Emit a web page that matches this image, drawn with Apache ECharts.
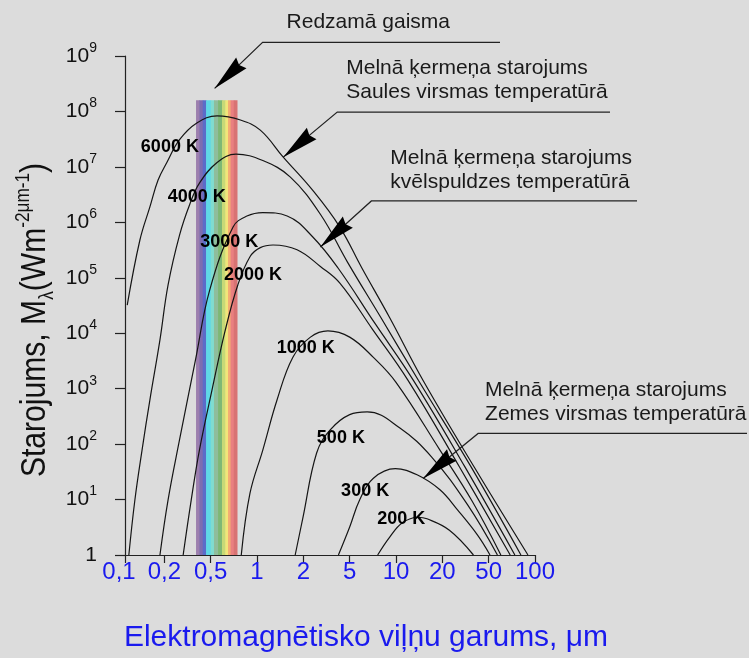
<!DOCTYPE html>
<html>
<head>
<meta charset="utf-8">
<script src="https://cdn.jsdelivr.net/npm/echarts@6/dist/echarts.min.js"></script>
<style>
  html, body { margin: 0; padding: 0; background: #dcdcdc; }
  #chart { width: 749px; height: 658px; }
</style>
</head>
<body>
<div id="chart"></div>
<script>
// x axis: tick values in μm and their labels (the picture spaces them evenly, 1-2-5 style)
const xTicks = [0.1, 0.2, 0.5, 1, 2, 5, 10, 20, 50, 100];
const xTickText = ['0,1', '0,2', '0,5', '1', '2', '5', '10', '20', '50', '100'];

// curves: [wavelength μm, M W/(m² μm)]
const t6000 = [[0.104, 3.2e4], [0.13, 4.8e5], [0.155, 1.9e6], [0.179, 5.8e6], [0.21, 1.2e7],
  [0.27, 3.1e7], [0.38, 6.2e7], [0.55, 8.3e7], [0.78, 7.0e7], [1.05, 4.6e7], [1.48, 1.5e7], [2.4, 3.8e6],
  [4.1, 8.3e5], [6.0, 1.5e5], [9.1, 1.9e4], [15, 1.4e3], [38, 37], [90, 1]];
const t4000 = [[0.107, 1], [0.119, 9.8], [0.135, 78], [0.155, 630], [0.185, 7.6e3], [0.215, 7.4e4], [0.27, 5.9e5],
  [0.33, 2.1e6], [0.40, 5.1e6], [0.55, 1.2e7], [0.73, 1.7e7], [1.09, 1.3e7], [1.64, 6.6e6], [2.8, 1.4e6],
  [4.8, 1.9e5], [7.9, 2.0e4], [14, 1.4e3], [35, 40], [81, 1]];
const t3000 = [[0.185, 1], [0.215, 9.8], [0.27, 120], [0.37, 3.3e3], [0.49, 6.0e4], [0.70, 8.3e5], [0.86, 1.3e6],
  [1.09, 1.5e6], [1.57, 1.3e6], [2.4, 5.5e5], [3.97, 1.5e5], [7.3, 1.5e4], [13, 1.4e3], [31, 40], [74, 1]];
const t2000 = [[0.29, 1], [0.34, 9.8], [0.40, 78], [0.51, 950], [0.62, 1.1e4], [0.75, 7.4e4], [0.90, 2.4e5],
  [1.05, 3.5e5], [1.27, 3.9e5], [1.82, 3.2e5], [2.8, 1.6e5], [4.1, 8.1e4], [7.0, 1.2e4], [12, 1.4e3], [28, 39], [69, 1]];
const t1000 = [[0.79, 1], [0.90, 13], [1.09, 78], [1.35, 630], [1.71, 3.7e3], [2.3, 8.5e3], [3.25, 1.1e4],
  [5.0, 8.5e3], [7.1, 3.7e3], [10, 1.3e3], [19.3, 78], [36, 9.4], [60, 1]];
const t500 = [[1.77, 1], [1.99, 4.8], [2.6, 69], [3.4, 180], [5.0, 340], [6.5, 380], [10.6, 195],
  [17, 59], [33, 8.0], [57, 1]];
const t300 = [[4.0, 1], [5.0, 3.2], [5.8, 9.8], [7.1, 24], [9.9, 36], [13.7, 28], [19.3, 15], [27, 6.5], [40, 2.3], [51, 1]];
const t200 = [[7.6, 1], [9.1, 2.1], [11, 3.8], [13.9, 4.8], [15.9, 4.5], [23, 2.8], [37, 1]];

const curveNames = ['6000 K', '4000 K', '3000 K', '2000 K', '1000 K', '500 K', '300 K', '200 K'];
const curveData = [t6000, t4000, t3000, t2000, t1000, t500, t300, t200];
// where each name label sits [μm, M]
const labelAt = [[0.223, 2.3e7], [0.38, 2.9e6], [0.66, 4.4e5], [0.94, 1.1e5], [2.1, 5.4e3], [4.2, 130], [6.3, 14], [10.8, 4.5]];

// visible band: edges in μm and top value
const bandEdges = [0.374, 0.40, 0.427, 0.456, 0.50, 0.525, 0.558, 0.592, 0.622, 0.648, 0.673, 0.706, 0.74];
const bandTop = 1.6e8;
const bandColors = ['#9c7fae', '#7d6db0', '#5b6cc9', '#5fd8e6', '#80dcd0', '#8fbd9c', '#7db875', '#c6d977',
  '#f0e67a', '#f2ad72', '#e98080', '#d87373'];

const FONT = "'Liberation Sans', Arial, sans-serif";
const BLUE = '#1a1aee';
const U0 = 0.15; // the 0,1 -> 0,2 step is drawn a bit shorter than the rest

// wavelength -> axis position (log steps between the labelled ticks)
function toU(l) {
  let i = 0;
  while (i < xTicks.length - 2 && l > xTicks[i + 1]) i++;
  const a = i === 0 ? U0 : i;
  const f = Math.log(l / xTicks[i]) / Math.log(xTicks[i + 1] / xTicks[i]);
  return a + f * (i + 1 - a);
}
const tickU = xTicks.map(toU);

const chart = echarts.init(document.getElementById('chart'));

const series = [{
  type: 'custom',
  silent: true,
  z: 1,
  data: bandColors.map((c, i) => [toU(bandEdges[i]), toU(bandEdges[i + 1]), bandTop, i]),
  encode: { x: [0, 1], y: 2 },
  renderItem(params, api) {
    const p0 = api.coord([api.value(0), api.value(2)]);
    const p1 = api.coord([api.value(1), 1]);
    return {
      type: 'rect',
      shape: { x: p0[0], y: p0[1], width: p1[0] - p0[0] + 0.6, height: p1[1] - p0[1] },
      style: { fill: bandColors[api.value(3)] }
    };
  }
}];

curveData.forEach((d, i) => {
  series.push({
    type: 'line',
    name: curveNames[i],
    data: d.map(p => [toU(p[0]), p[1]]),
    smooth: 0.4,
    symbol: 'none',
    z: 3,
    lineStyle: { color: '#151515', width: 1.2 },
    markPoint: {
      symbol: 'circle',
      symbolSize: 0,
      data: [{ coord: [toU(labelAt[i][0]), labelAt[i][1]] }],
      label: {
        show: true,
        position: 'inside',
        formatter: curveNames[i],
        color: '#000',
        fontFamily: FONT,
        fontWeight: 'bold',
        fontSize: 18,
        textShadowColor: '#fff',
        textShadowOffsetX: 1.5,
        textShadowOffsetY: 1.5,
        textShadowBlur: 0
      }
    }
  });
});

chart.setOption({
  animation: false,
  backgroundColor: '#dcdcdc',
  grid: { left: 125, right: 214, top: 56, bottom: 103, outerBoundsMode: 'none', containLabel: false },
  xAxis: {
    type: 'value',
    min: U0,
    max: xTicks.length - 1,
    name: 'Elektromagnētisko viļņu garums, μm',
    nameLocation: 'middle',
    nameGap: 68,
    nameTextStyle: { color: BLUE, fontFamily: FONT, fontSize: 30, padding: [0, 0, 0, 72] },
    splitLine: { show: false },
    axisLine: { lineStyle: { color: '#222', width: 1.2 } },
    axisTick: { customValues: tickU, length: 8, lineStyle: { color: '#222', width: 1.2 } },
    axisLabel: {
      customValues: tickU,
      margin: 5,
      color: BLUE,
      fontFamily: FONT,
      fontSize: 24,
      formatter: v => {
        const i = tickU.findIndex(u => Math.abs(u - v) < 1e-6);
        // the first label sits a little left of its tick in the reference
        return i === 0 ? '{first|' + xTickText[0] + '}' : xTickText[i];
      },
      rich: {
        first: { fontFamily: FONT, fontSize: 24, color: BLUE, padding: [0, 12, 0, 0] }
      }
    }
  },
  yAxis: {
    type: 'log',
    logBase: 10,
    min: 1,
    max: 1e9,
    splitNumber: 9,
    splitLine: { show: false },
    minorTick: { show: false },
    axisLine: { show: true, lineStyle: { color: '#222', width: 1.2 } },
    axisTick: { length: 10, lineStyle: { color: '#222', width: 1.2 } },
    axisLabel: {
      margin: 28,
      color: '#111',
      fontFamily: FONT,
      formatter: v => v === 1 ? '{b|1}' : '{b|10}{s|' + Math.round(Math.log10(v)) + '}',
      rich: {
        b: { fontFamily: FONT, fontSize: 21, lineHeight: 30, color: '#111' },
        s: { fontFamily: FONT, fontSize: 14, lineHeight: 14, verticalAlign: 'top', color: '#111' }
      }
    }
  },
  series
});

// callouts: tip in data units, elbow and text offsets in px from the tip / elbow
const callouts = [
  { text: 'Redzamā gaisma', tip: [0.53, 2.6e8], elbow: [48, -46], lineTo: 500, textAt: [24, -20] },
  { text: 'Melnā ķermeņa starojums\nSaules virsmas temperatūrā', tip: [1.48, 1.5e7], elbow: [54, -45], lineTo: 610, textAt: [9, -44] },
  { text: 'Melnā ķermeņa starojums\nkvēlspuldzes temperatūrā', tip: [2.8, 3.6e5], elbow: [51, -46], lineTo: 637, textAt: [19, -43] },
  { text: 'Melnā ķermeņa starojums\nZemes virsmas temperatūrā', tip: [15, 24], elbow: [55, -45], lineTo: 747, textAt: [7, -43] }
];

const graphics = [];
callouts.forEach(c => {
  const t = chart.convertToPixel({ xAxisIndex: 0, yAxisIndex: 0 }, [toU(c.tip[0]), c.tip[1]]);
  const e = [t[0] + c.elbow[0], t[1] + c.elbow[1]];
  graphics.push({
    type: 'polyline',
    z: 10,
    shape: { points: [t, e, [c.lineTo, e[1]]] },
    style: { stroke: '#222', lineWidth: 1.2, fill: null }
  });
  // arrow head
  const dx = t[0] - e[0], dy = t[1] - e[1];
  const len = Math.sqrt(dx * dx + dy * dy);
  const ux = dx / len, uy = dy / len;
  const bx = t[0] - ux * 37, by = t[1] - uy * 37;
  graphics.push({
    type: 'polygon',
    z: 10,
    shape: { points: [t, [bx - uy * 7.5, by + ux * 7.5], [bx + ux * 3, by + uy * 3], [bx + uy * 7.5, by - ux * 7.5]] },
    style: { fill: '#000' }
  });
  graphics.push({
    type: 'text',
    z: 10,
    x: e[0] + c.textAt[0],
    y: e[1] + c.textAt[1] - 12,
    style: {
      text: c.text,
      fill: '#1a1a1a',
      font: '21px ' + FONT,
      lineHeight: 24,
      align: 'left',
      verticalAlign: 'top'
    }
  });
});

// y axis title, drawn narrow like the reference lettering
graphics.push({
  type: 'text',
  x: 35,
  y: 320,
  rotation: Math.PI / 2,
  scaleX: 0.86,
  style: {
    text: '{a|Starojums, M}{sub|λ}{a|(Wm}{sup|-2μm-1}{a|)}',
    align: 'center',
    verticalAlign: 'middle',
    fill: '#111',
    rich: {
      a: { fontFamily: FONT, fontSize: 35, lineHeight: 44, fill: '#111' },
      sub: { fontFamily: FONT, fontSize: 20, lineHeight: 20, verticalAlign: 'bottom', fill: '#111' },
      sup: { fontFamily: FONT, fontSize: 20, lineHeight: 20, verticalAlign: 'top', fill: '#111' }
    }
  }
});
chart.setOption({ graphic: graphics });
</script>
</body>
</html>
